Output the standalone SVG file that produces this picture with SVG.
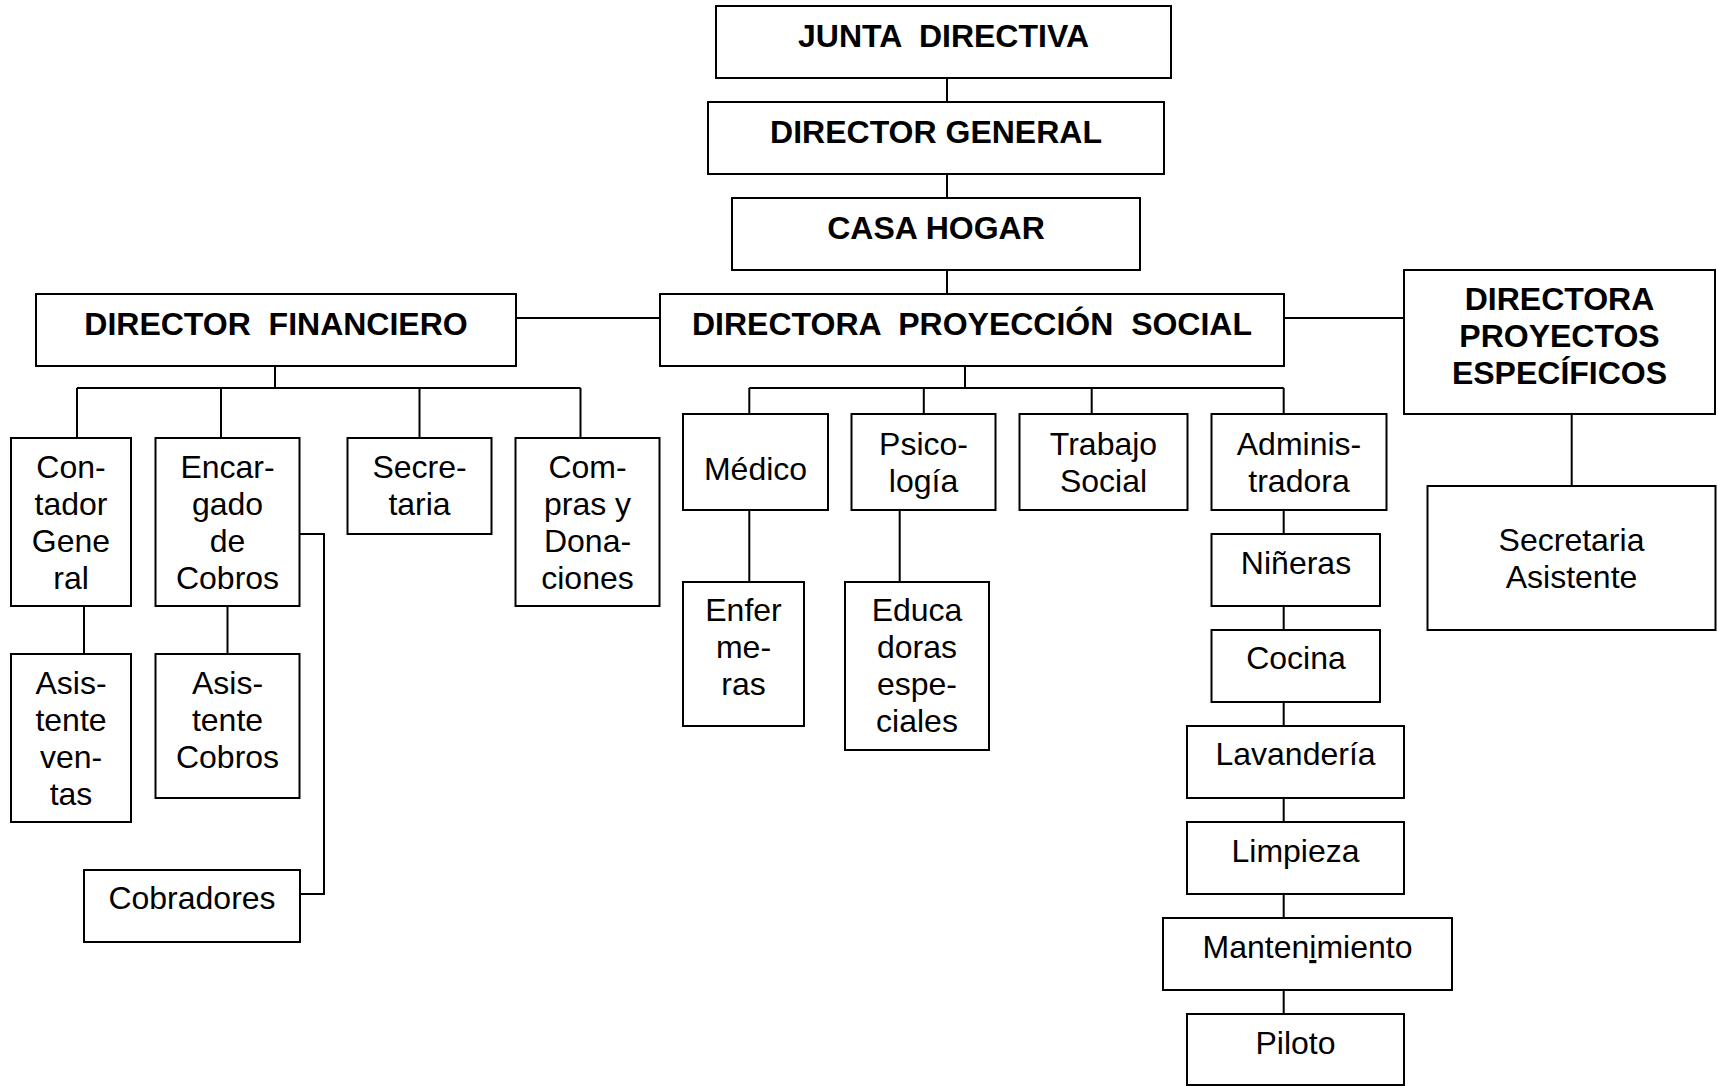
<svg xmlns="http://www.w3.org/2000/svg" width="1717" height="1086" viewBox="0 0 1717 1086">
<style>
  .box { fill: #fff; stroke: #000; stroke-width: 2; }
  .hd { font-family: "Liberation Sans", Arial, sans-serif; font-weight: bold; font-size: 32px; text-anchor: middle; fill: #000; white-space: pre; }
  .tx { font-family: "Liberation Sans", Arial, sans-serif; font-size: 32px; text-anchor: middle; fill: #000; }
  .ln { fill: none; stroke: #000; stroke-width: 2; }
</style>
<rect width="1717" height="1086" fill="#fff"/>
<g id="connectors">
  <path class="ln" d="M947 78V102M947 174V198M947 270V294"/>
  <path class="ln" d="M516 318H660M1284 318H1404"/>
  <path class="ln" d="M275 366V388M77 388H580.5M77 388V438M221 388V438M419.5 388V438M580.5 388V438"/>
  <path class="ln" d="M84 606V654M227.5 606V654"/>
  <path class="ln" d="M299.5 534H324V894H300"/>
  <path class="ln" d="M965 366V388M749.3 388H1283.7M749.3 388V414M923.8 388V414M1091.7 388V414M1283.7 388V414"/>
  <path class="ln" d="M749.3 510V582M899.7 510V582"/>
  <path class="ln" d="M1283.7 510V534M1283.7 606V630M1283.7 702V726M1283.7 798V822M1283.7 894V918M1283.7 990V1014"/>
  <path class="ln" d="M1571.7 414V486"/>
</g>
<g id="junta"><rect class="box" x="716" y="6" width="455" height="72"/><text class="hd" x="943.5" y="46.5">JUNTA  DIRECTIVA</text></g>
<g id="director-general"><rect class="box" x="708" y="102" width="456" height="72"/><text class="hd" x="936" y="142.5">DIRECTOR GENERAL</text></g>
<g id="casa-hogar"><rect class="box" x="732" y="198" width="408" height="72"/><text class="hd" x="936" y="239">CASA HOGAR</text></g>
<g id="director-financiero"><rect class="box" x="36" y="294" width="480" height="72"/><text class="hd" x="276" y="335">DIRECTOR  FINANCIERO</text></g>
<g id="directora-proyeccion"><rect class="box" x="660" y="294" width="624" height="72"/><text class="hd" x="972" y="335">DIRECTORA  PROYECCIÓN  SOCIAL</text></g>
<g id="directora-proyectos"><rect class="box" x="1404" y="270" width="311" height="144"/>
  <text class="hd" x="1559.5" y="310">DIRECTORA</text>
  <text class="hd" x="1559.5" y="347">PROYECTOS</text>
  <text class="hd" x="1559.5" y="384">ESPECÍFICOS</text></g>
<g id="contador"><rect class="box" x="11" y="438" width="120" height="168"/>
  <text class="tx" x="71" y="478">Con-</text><text class="tx" x="71" y="515">tador</text><text class="tx" x="71" y="552">Gene</text><text class="tx" x="71" y="589">ral</text></g>
<g id="encargado"><rect class="box" x="155.5" y="438" width="144" height="168"/>
  <text class="tx" x="227.5" y="478">Encar-</text><text class="tx" x="227.5" y="515">gado</text><text class="tx" x="227.5" y="552">de</text><text class="tx" x="227.5" y="589">Cobros</text></g>
<g id="secretaria"><rect class="box" x="347.5" y="438" width="144" height="96"/>
  <text class="tx" x="419.5" y="478">Secre-</text><text class="tx" x="419.5" y="515">taria</text></g>
<g id="compras"><rect class="box" x="515.5" y="438" width="144" height="168"/>
  <text class="tx" x="587.5" y="478">Com-</text><text class="tx" x="587.5" y="515">pras y</text><text class="tx" x="587.5" y="552">Dona-</text><text class="tx" x="587.5" y="589">ciones</text></g>
<g id="asistente-ventas"><rect class="box" x="11" y="654" width="120" height="168"/>
  <text class="tx" x="71" y="694">Asis-</text><text class="tx" x="71" y="731">tente</text><text class="tx" x="71" y="768">ven-</text><text class="tx" x="71" y="805">tas</text></g>
<g id="asistente-cobros"><rect class="box" x="155.5" y="654" width="144" height="144"/>
  <text class="tx" x="227.5" y="694">Asis-</text><text class="tx" x="227.5" y="731">tente</text><text class="tx" x="227.5" y="768">Cobros</text></g>
<g id="cobradores"><rect class="box" x="84" y="870" width="216" height="72"/>
  <text class="tx" x="192" y="909">Cobradores</text></g>
<g id="medico"><rect class="box" x="683" y="414" width="145" height="96"/>
  <text class="tx" x="755.5" y="480">Médico</text></g>
<g id="psicologia"><rect class="box" x="851.5" y="414" width="144" height="96"/>
  <text class="tx" x="923.5" y="455">Psico-</text><text class="tx" x="923.5" y="492">logía</text></g>
<g id="trabajo-social"><rect class="box" x="1019.5" y="414" width="168" height="96"/>
  <text class="tx" x="1103.5" y="455">Trabajo</text><text class="tx" x="1103.5" y="492">Social</text></g>
<g id="administradora"><rect class="box" x="1211.5" y="414" width="175" height="96"/>
  <text class="tx" x="1299" y="455">Adminis-</text><text class="tx" x="1299" y="492">tradora</text></g>
<g id="enfermeras"><rect class="box" x="683" y="582" width="121" height="144"/>
  <text class="tx" x="743.5" y="621">Enfer</text><text class="tx" x="743.5" y="658">me-</text><text class="tx" x="743.5" y="695">ras</text></g>
<g id="educadoras"><rect class="box" x="845" y="582" width="144" height="168"/>
  <text class="tx" x="917" y="621">Educa</text><text class="tx" x="917" y="658">doras</text><text class="tx" x="917" y="695">espe-</text><text class="tx" x="917" y="732">ciales</text></g>
<g id="nineras"><rect class="box" x="1211.5" y="534" width="168.5" height="72"/>
  <text class="tx" x="1296" y="574">Niñeras</text></g>
<g id="cocina"><rect class="box" x="1211.5" y="630" width="168.5" height="72"/>
  <text class="tx" x="1296" y="669">Cocina</text></g>
<g id="lavanderia"><rect class="box" x="1187" y="726" width="217" height="72"/>
  <text class="tx" x="1295.5" y="765">Lavandería</text></g>
<g id="limpieza"><rect class="box" x="1187" y="822" width="217" height="72"/>
  <text class="tx" x="1295.5" y="862">Limpieza</text></g>
<g id="mantenimiento"><rect class="box" x="1163" y="918" width="289" height="72"/>
  <text class="tx" x="1307.5" y="958">Manten<tspan text-decoration="underline">i</tspan>miento</text></g>
<g id="piloto"><rect class="box" x="1187" y="1014" width="217" height="71"/>
  <text class="tx" x="1295.5" y="1054">Piloto</text></g>
<g id="secretaria-asistente"><rect class="box" x="1427.5" y="486" width="288" height="144"/>
  <text class="tx" x="1571.5" y="551">Secretaria</text><text class="tx" x="1571.5" y="588">Asistente</text></g>
</svg>
